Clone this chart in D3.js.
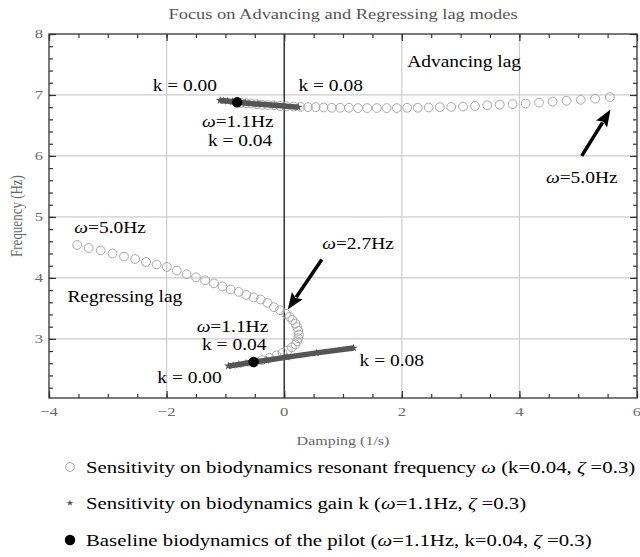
<!DOCTYPE html>
<html>
<head>
<meta charset="utf-8">
<script src="https://cdn.jsdelivr.net/npm/d3@7"></script>
<style>
  html, body { margin: 0; padding: 0; background: #fff; }
  svg { display: block; }
  text { font-family: "Liberation Serif", "DejaVu Serif", serif; }
</style>
</head>
<body>
<svg id="chart" width="640" height="557"></svg>
<script>
// ---------------- DATA ----------------
const omegaHz = [1.1,1.2,1.3,1.4,1.5,1.6,1.7,1.8,1.9,2.0,2.1,2.2,2.3,2.4,2.5,2.6,2.7,2.8,2.9,3.0,
                 3.1,3.2,3.3,3.4,3.5,3.6,3.7,3.8,3.9,4.0,4.1,4.2,4.3,4.4,4.5,4.6,4.7,4.8,4.9,5.0];

// Advancing lag mode, sensitivity on omega
const advOmegaDamping = [-0.80,-0.725,-0.645,-0.561,-0.472,-0.379,-0.281,-0.178,-0.071,0.041,
                         0.157,0.278,0.404,0.534,0.669,0.809,0.953,1.101,1.255,1.412,
                         1.575,1.742,1.914,2.091,2.271,2.457,2.647,2.841,3.041,3.245,
                         3.453,3.666,3.884,4.107,4.334,4.565,4.802,5.042,5.288,5.538];
const advOmegaFreq = [6.88,6.87,6.865,6.86,6.85,6.84,6.835,6.83,6.82,6.815,
                      6.81,6.805,6.80,6.80,6.795,6.79,6.79,6.79,6.785,6.785,
                      6.785,6.785,6.785,6.79,6.79,6.795,6.80,6.805,6.81,6.82,
                      6.83,6.84,6.85,6.86,6.875,6.89,6.905,6.92,6.94,6.965];

// Regressing lag mode, sensitivity on omega
const regOmegaDamping = [-0.52,-0.38,-0.25,-0.13,-0.03,0.06,0.13,0.19,0.22,0.24,
                         0.25,0.24,0.22,0.19,0.14,0.09,0.03,-0.07,-0.175,-0.285,
                         -0.40,-0.52,-0.645,-0.775,-0.91,-1.05,-1.195,-1.345,-1.50,-1.66,
                         -1.825,-1.995,-2.17,-2.35,-2.535,-2.725,-2.92,-3.12,-3.325,-3.52];
const regOmegaFreq = [2.62,2.65,2.69,2.73,2.77,2.81,2.86,2.91,2.96,3.01,
                      3.07,3.13,3.19,3.25,3.31,3.36,3.41,3.47,3.52,3.59,
                      3.645,3.68,3.72,3.77,3.81,3.86,3.91,3.96,4.01,4.06,
                      4.12,4.18,4.22,4.26,4.31,4.35,4.40,4.45,4.49,4.54];

// Sensitivity on gain k
const gainK = [0.00,0.01,0.02,0.03,0.04,0.05,0.06,0.07,0.08];
const advGainDamping = [-1.09,-1.03,-0.96,-0.88,-0.80,-0.66,-0.45,-0.16,0.24];
const advGainFreq    = [6.91,6.905,6.90,6.89,6.88,6.87,6.85,6.83,6.80];
const regGainDamping = [-0.95,-0.87,-0.77,-0.65,-0.52,-0.30,0.05,0.55,1.18];
const regGainFreq    = [2.555,2.565,2.58,2.60,2.62,2.65,2.70,2.77,2.85];

// Baseline pilot
const baselineDamping = [-0.80,-0.52];
const baselineFreq    = [6.88, 2.62];

// Axis ticks
const xMajorTicks = [-4,-2,0,2,4,6];
const yMajorTicks = [3,4,5,6,7,8];
const xTickLabels = ["\u22124","\u22122","0","2","4","6"];
const yTickLabels = ["3","4","5","6","7","8"];

// Annotations (text, damping, frequency of baseline centre)
const annoText   = ["Advancing lag","k = 0.00","k = 0.08","\u03c9=1.1Hz","k = 0.04","\u03c9=5.0Hz",
                    "\u03c9=5.0Hz","\u03c9=2.7Hz","Regressing lag","\u03c9=1.1Hz","k = 0.04","k = 0.00","k = 0.08"];
const annoDamping = [3.06,-1.69,0.79,-0.79,-0.75,5.06,-2.96,1.255,-2.71,-0.88,-0.85,-1.61,1.83];
const annoFreq    = [7.46,7.07,7.07,6.475,6.16,5.56,4.74,4.48,3.61,3.115,2.82,2.28,2.557];

// Arrows: tail -> head (damping, frequency)
const arrowTailDamping = [5.06, 0.64];
const arrowTailFreq    = [6.00, 4.30];
const arrowHeadDamping = [5.55, 0.06];
const arrowHeadFreq    = [6.76, 3.48];

const legendLabels = [
  "Sensitivity on biodynamics resonant frequency \u03c9 (k=0.04, \u03b6 =0.3)",
  "Sensitivity on biodynamics gain k (\u03c9=1.1Hz, \u03b6 =0.3)",
  "Baseline biodynamics of the pilot (\u03c9=1.1Hz, k=0.04, \u03b6 =0.3)"
];

// ---------------- CHART ----------------
const svg = d3.select("#chart");
const L = 49, R = 637, T = 34, B = 398;
const SX = 1.23; // horizontal stretch of lettering seen in the reference
const x = d3.scaleLinear().domain([-4, 6]).range([L, R]);
const y = d3.scaleLinear().domain([2.03, 8]).range([B, T]);

const gridColor = "#cccccc";
const frameColor = "#333333";
const tickTextColor = "#6a6a6a";

function stretched(t, px, py) {
  return t.attr("x", 0).attr("y", 0).attr("transform", `translate(${px},${py}) scale(${SX},1)`);
}
function richText(t, s) {
  s.split(/([\u03c9\u03b6])/).forEach(part => {
    if (part === "\u03c9" || part === "\u03b6") t.append("tspan").attr("font-style", "italic").text(part);
    else if (part) t.append("tspan").text(part);
  });
}

// grid
svg.append("g").selectAll("line").data([-2,2,4]).join("line")
  .attr("x1", d => x(d)).attr("x2", d => x(d)).attr("y1", T).attr("y2", B)
  .attr("stroke", gridColor).attr("stroke-width", 1.2);
svg.append("g").selectAll("line").data([3,4,5,6,7]).join("line")
  .attr("x1", L).attr("x2", R).attr("y1", d => y(d)).attr("y2", d => y(d))
  .attr("stroke", gridColor).attr("stroke-width", 1.2);

// zero axis
svg.append("line").attr("x1", x(0)).attr("x2", x(0)).attr("y1", T).attr("y2", B)
  .attr("stroke", "#000").attr("stroke-width", 1.2);

// axes with inward ticks
const xMinor = d3.range(-4, 6.001, 0.5);
const yMinor = d3.range(2.2, 8.001, 0.2).map(v => +v.toFixed(1));
function styleAxis(g) {
  g.select(".domain").remove();
  g.selectAll(".tick line").attr("stroke", frameColor).attr("stroke-width", 1.2);
  g.selectAll(".tick text").remove();
}
[[d3.axisBottom, B], [d3.axisTop, T]].forEach(([ax, pos]) => {
  svg.append("g").attr("transform", `translate(0,${pos})`).call(ax(x).tickValues(xMinor).tickSize(-4)).call(styleAxis);
  svg.append("g").attr("transform", `translate(0,${pos})`).call(ax(x).tickValues(xMajorTicks).tickSize(-7)).call(styleAxis);
});
[[d3.axisLeft, L], [d3.axisRight, R]].forEach(([ax, pos]) => {
  svg.append("g").attr("transform", `translate(${pos},0)`).call(ax(y).tickValues(yMinor).tickSize(-4)).call(styleAxis);
  svg.append("g").attr("transform", `translate(${pos},0)`).call(ax(y).tickValues(yMajorTicks).tickSize(-7)).call(styleAxis);
});

// frame
svg.append("rect").attr("x", L).attr("y", T).attr("width", R - L).attr("height", B - T)
  .attr("fill", "none").attr("stroke", frameColor).attr("stroke-width", 1.3);

// tick labels
svg.append("g").selectAll("text").data(xMajorTicks).join("text")
  .each(function(d, i) {
    stretched(d3.select(this), x(d), B + 18).attr("text-anchor", "middle")
      .attr("font-size", 13.5).attr("fill", tickTextColor).text(xTickLabels[i]);
  });
svg.append("g").selectAll("text").data(yMajorTicks).join("text")
  .each(function(d, i) {
    stretched(d3.select(this), L - 6, y(d) + 4).attr("text-anchor", "end")
      .attr("font-size", 13.5).attr("fill", tickTextColor).text(yTickLabels[i]);
  });

// titles
stretched(svg.append("text"), (L + R) / 2, 19).attr("text-anchor", "middle")
  .attr("font-size", 15).attr("fill", "#555").text("Focus on Advancing and Regressing lag modes");
stretched(svg.append("text"), (L + R) / 2, 445).attr("text-anchor", "middle")
  .attr("font-size", 13).attr("fill", "#666").text("Damping (1/s)");
svg.append("text").attr("transform", `translate(22,${(T + B) / 2}) scale(${SX},1) rotate(-90)`)
  .attr("text-anchor", "middle").attr("font-size", 13).attr("fill", "#666").text("Frequency (Hz)");

// clip region
svg.append("clipPath").attr("id", "plotclip").append("rect")
  .attr("x", L).attr("y", T).attr("width", R - L).attr("height", B - T);
const plot = svg.append("g").attr("clip-path", "url(#plotclip)");

// omega sensitivity circles
const circleColor = "#a8a8a8";
function omegaCircles(dmp, frq) {
  plot.append("g").selectAll("circle").data(dmp).join("circle")
    .attr("cx", d => x(d)).attr("cy", (d, i) => y(frq[i])).attr("r", 4.4)
    .attr("fill", "none").attr("stroke", circleColor).attr("stroke-width", 1);
}
omegaCircles(advOmegaDamping, advOmegaFreq);
omegaCircles(regOmegaDamping, regOmegaFreq);

// gain sensitivity (dense star markers appear as a thick line)
const gainColor = "#555555";
const gainLine = d3.line().x(d => x(d[0])).y(d => y(d[1]));
function gainSweep(dmp, frq) {
  const pts = gainK.map((k, i) => [dmp[i], frq[i]]);
  plot.append("path").datum(pts).attr("d", gainLine)
    .attr("fill", "none").attr("stroke", gainColor).attr("stroke-width", 5.5)
    .attr("stroke-linecap", "butt");
  plot.append("g").selectAll("path").data(pts).join("path")
    .attr("d", d3.symbol(d3.symbolStar, 22)())
    .attr("transform", d => `translate(${x(d[0])},${y(d[1])})`)
    .attr("fill", gainColor);
}
gainSweep(advGainDamping, advGainFreq);
gainSweep(regGainDamping, regGainFreq);

// baseline points
plot.append("g").selectAll("circle").data(baselineDamping).join("circle")
  .attr("cx", d => x(d)).attr("cy", (d, i) => y(baselineFreq[i])).attr("r", 5.2)
  .attr("fill", "#000");

// arrows
arrowTailDamping.forEach((td, i) => {
  const x1 = x(td), y1 = y(arrowTailFreq[i]);
  const x2 = x(arrowHeadDamping[i]), y2 = y(arrowHeadFreq[i]);
  const ang = Math.atan2(y2 - y1, x2 - x1);
  const hl = 17, hw = 6.5;
  const bx = x2 - hl * Math.cos(ang), by = y2 - hl * Math.sin(ang);
  svg.append("line").attr("x1", x1).attr("y1", y1).attr("x2", bx + 2 * Math.cos(ang)).attr("y2", by + 2 * Math.sin(ang))
    .attr("stroke", "#000").attr("stroke-width", 3.5);
  const p = [[x2, y2],
             [bx + hw * Math.sin(ang), by - hw * Math.cos(ang)],
             [bx + 3 * Math.cos(ang), by + 3 * Math.sin(ang)],
             [bx - hw * Math.sin(ang), by + hw * Math.cos(ang)]];
  svg.append("path").attr("d", "M" + p.map(q => q.join(",")).join("L") + "Z").attr("fill", "#000");
});

// annotations
svg.append("g").selectAll("text").data(annoText).join("text")
  .each(function(d, i) {
    const t = stretched(d3.select(this), x(annoDamping[i]), y(annoFreq[i]))
      .attr("text-anchor", "middle").attr("font-size", 15.8).attr("fill", "#000");
    richText(t, d);
  });

// legend
const legY = [467, 503, 540];
const lg = svg.append("g");
lg.append("circle").attr("cx", 70).attr("cy", legY[0]).attr("r", 4.4)
  .attr("fill", "none").attr("stroke", circleColor).attr("stroke-width", 1);
lg.append("path").attr("d", d3.symbol(d3.symbolStar, 14)())
  .attr("transform", `translate(70,${legY[1]})`).attr("fill", gainColor);
lg.append("circle").attr("cx", 70).attr("cy", legY[2]).attr("r", 5.2).attr("fill", "#000");
lg.selectAll("text").data(legendLabels).join("text")
  .each(function(d, i) {
    const t = stretched(d3.select(this), 86, legY[i] + 6).attr("font-size", 16.9).attr("fill", "#000");
    richText(t, d);
  });
</script>
</body>
</html>
